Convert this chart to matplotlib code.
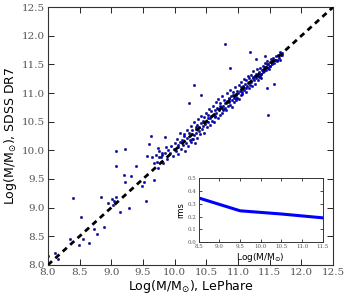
import matplotlib
matplotlib.use("Agg")
import matplotlib.pyplot as plt
import numpy as np

# ---- data ----
lephare = [
    8.00, 8.11, 8.16, 8.35, 8.49, 8.55, 8.65, 8.73, 8.78, 8.88, 8.95, 9.01, 9.04, 9.07, 9.03,
    9.14, 9.28, 9.20, 9.22, 9.31, 9.39, 9.55, 9.48, 9.52, 9.56, 9.65, 9.67, 9.72, 8.40, 8.53,
    8.84, 9.08, 9.08, 9.21, 9.60, 9.62, 9.85, 9.70, 9.75, 9.78, 9.74, 9.76, 9.68, 9.80, 9.73,
    9.80, 9.82, 9.84, 9.86, 9.88, 9.78, 9.90, 9.92, 9.95, 9.97, 9.99,
    10.00, 10.02, 10.03, 10.05, 10.06, 10.08, 10.09, 10.10, 10.12, 10.13, 10.15, 10.16, 10.18, 10.19,
    10.20, 10.21, 10.23, 10.24, 10.25, 10.26, 10.27, 10.28, 10.29, 10.30, 10.31, 10.32, 10.33, 10.34,
    10.35, 10.36, 10.37, 10.38, 10.39,
    10.40, 10.41, 10.42, 10.43, 10.44, 10.45, 10.46, 10.47, 10.48, 10.49, 10.50, 10.51, 10.52, 10.53,
    10.54, 10.55, 10.56, 10.57, 10.58, 10.59,
    10.60, 10.61, 10.62, 10.63, 10.64, 10.65, 10.66, 10.67, 10.68, 10.69, 10.70, 10.71, 10.72, 10.73,
    10.74, 10.75, 10.76, 10.77, 10.78, 10.79,
    10.80, 10.81, 10.82, 10.83, 10.84, 10.85, 10.86, 10.87, 10.88, 10.89, 10.90, 10.91, 10.92, 10.93,
    10.94, 10.95, 10.96, 10.97, 10.98, 10.99,
    11.00, 11.01, 11.02, 11.03, 11.04, 11.05, 11.06, 11.07, 11.08, 11.09, 11.10, 11.11, 11.12, 11.13,
    11.14, 11.15, 11.16, 11.17, 11.18, 11.19,
    11.20, 11.21, 11.22, 11.23, 11.24, 11.25, 11.26, 11.27, 11.28, 11.29, 11.30, 11.31, 11.32, 11.33,
    11.34, 11.35, 11.36, 11.37, 11.38, 11.39,
    11.40, 11.41, 11.42, 11.43, 11.44, 11.45, 11.46, 11.47, 11.48, 11.49, 11.50, 11.51, 11.52, 11.53,
    11.54, 11.55, 11.56, 11.58, 11.60, 11.62, 11.63, 11.65, 11.66, 11.68, 11.70, 11.66,
    10.80, 11.19, 10.88, 10.31, 11.48, 11.57, 11.29, 10.42, 10.23, 11.45, 11.43,
    10.14, 10.27, 10.46, 10.63, 10.71, 10.86, 10.97, 11.04, 11.12, 11.26, 11.33, 11.42, 11.51, 11.59,
    10.05, 10.33, 10.52, 10.68, 10.77, 10.92, 11.07, 11.17, 11.23, 11.37, 11.46, 11.61, 11.69,
]
sdss = [
    8.16, 8.20, 8.10, 8.45, 8.35, 8.45, 8.39, 8.62, 8.54, 8.67, 9.08, 9.15, 9.12, 9.18, 9.05,
    8.93, 8.99, 9.57, 9.45, 9.55, 9.72, 9.11, 9.37, 9.45, 9.90, 9.89, 9.48, 9.80, 9.16, 8.83,
    9.19, 9.98, 9.72, 10.02, 10.11, 10.25, 10.23, 9.92, 9.98, 9.80, 9.70, 9.88, 9.78, 9.95, 10.04,
    9.92, 9.78, 9.95, 10.05, 9.85, 9.88, 10.00, 9.96, 10.08, 9.90, 10.02,
    10.12, 9.98, 10.20, 10.05, 9.94, 10.15, 10.30, 10.02, 10.18, 10.10, 10.25, 9.98, 10.12, 10.35,
    10.22, 10.08, 10.30, 10.18, 10.42, 10.15, 10.28, 10.36, 10.20, 10.50, 10.26, 10.12, 10.38, 10.30,
    10.45, 10.22, 10.55, 10.34, 10.40,
    10.28, 10.48, 10.60, 10.38, 10.52, 10.42, 10.30, 10.58, 10.46, 10.66, 10.52, 10.40, 10.62, 10.50,
    10.72, 10.56, 10.44, 10.68, 10.60, 10.52,
    10.78, 10.62, 10.50, 10.70, 10.58, 10.84, 10.66, 10.74, 10.56, 10.90, 10.70, 10.62, 10.82, 10.76,
    10.66, 10.95, 10.78, 10.70, 10.88, 10.74,
    10.82, 10.70, 11.00, 10.86, 10.78, 10.92, 10.84, 11.05, 10.80, 10.94, 10.88, 10.76, 11.02, 10.92,
    10.84, 11.10, 10.96, 10.88, 11.04, 10.92,
    11.00, 10.90, 11.14, 11.04, 10.96, 11.20, 11.08, 10.98, 11.12, 11.25, 11.06, 11.16, 11.02, 11.22,
    11.12, 11.30, 11.18, 11.08, 11.26, 11.14,
    11.20, 11.32, 11.12, 11.26, 11.38, 11.22, 11.30, 11.16, 11.34, 11.26, 11.42, 11.30, 11.22, 11.36,
    11.30, 11.44, 11.34, 11.26, 11.40, 11.36,
    11.48, 11.38, 11.44, 11.52, 11.40, 11.46, 11.56, 11.44, 11.50, 11.42, 11.54, 11.48, 11.60, 11.50,
    11.56, 11.62, 11.52, 11.58, 11.64, 11.56, 11.66, 11.62, 11.72, 11.66, 11.70, 11.58,
    11.85, 11.71, 11.43, 11.14, 10.62, 11.16, 11.59, 10.97, 10.83, 11.08, 11.64,
    10.28, 10.20, 10.50, 10.60, 10.78, 10.90, 10.92, 11.10, 11.08, 11.30, 11.28, 11.46, 11.47, 11.57,
    10.10, 10.40, 10.56, 10.72, 10.72, 10.96, 11.02, 11.20, 11.28, 11.34, 11.50, 11.58, 11.66,
]

rms_mass = [8.5, 9.5, 10.5, 11.5]
rms_vals = [0.345, 0.245, 0.22, 0.19]

main_ticks = [8.0, 8.5, 9.0, 9.5, 10.0, 10.5, 11.0, 11.5, 12.0, 12.5]
inset_xticks = [8.5, 9.0, 9.5, 10.0, 10.5, 11.0, 11.5]
inset_yticks = [0.0, 0.1, 0.2, 0.3, 0.4, 0.5]

# ---- figure ----
fig = plt.figure(figsize=(3.47, 2.96), dpi=100)
ax = fig.add_axes([0.138, 0.105, 0.822, 0.871])

ax.scatter(lephare, sdss, s=3, c='#0000cc', edgecolors='#000060', linewidths=0.3, zorder=2)
ax.plot([8.0, 12.5], [8.0, 12.5], color='black', lw=2.0, dashes=(2.0, 1.6), zorder=3)

ax.set_xlim(8.0, 12.5)
ax.set_ylim(8.0, 12.5)
ax.set_xticks(main_ticks)
ax.set_yticks(main_ticks)
ax.set_xticklabels([f"{t:.1f}" for t in main_ticks], family='DejaVu Serif', fontsize=7.5, color='#555555')
ax.set_yticklabels([f"{t:.1f}" for t in main_ticks], family='DejaVu Serif', fontsize=7.5, color='#555555')
ax.tick_params(direction='in', top=True, right=True, length=4, width=0.6, pad=2)
for sp in ax.spines.values():
    sp.set_linewidth(0.8)
    sp.set_color('#333333')
ax.set_xlabel(r"Log(M/M$_{\odot}$), LePhare", fontsize=9, labelpad=1)
ax.set_ylabel(r"Log(M/M$_{\odot}$), SDSS DR7", fontsize=9, labelpad=2)

# ---- inset ----
ins = fig.add_axes([0.573, 0.182, 0.357, 0.216])
ins.plot(rms_mass, rms_vals, color='#0000ff', lw=2.2)
ins.set_xlim(8.5, 11.5)
ins.set_ylim(0.0, 0.5)
ins.set_xticks(inset_xticks)
ins.set_yticks(inset_yticks)
ins.set_xticklabels([f"{t:.1f}" for t in inset_xticks], family='DejaVu Serif', fontsize=4, color='#555555')
ins.set_yticklabels([f"{t:.1f}" for t in inset_yticks], family='DejaVu Serif', fontsize=4, color='#555555')
ins.tick_params(direction='in', top=True, right=True, length=2.5, width=0.5, pad=1.5)
for sp in ins.spines.values():
    sp.set_linewidth(0.7)
    sp.set_color('#333333')
ins.set_xlabel(r"Log(M/M$_{\odot}$)", fontsize=6.5, labelpad=1)
ins.set_ylabel("rms", fontsize=6, labelpad=2)

fig.savefig("out.png", dpi=100)
